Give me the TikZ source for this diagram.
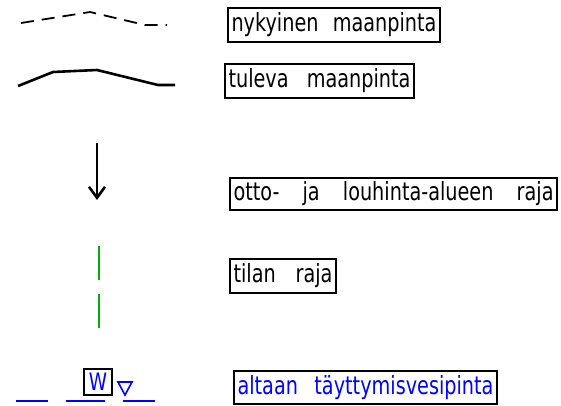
\documentclass[tikz,border=0pt]{standalone}
\usepackage[svgnames]{xcolor}
\usepackage{fontspec}
\setmainfont{DejaVu Sans}
\newfontfamily\cadfont[FakeStretch=0.77]{DejaVu Sans}
\usepackage{tikz}
\usetikzlibrary{arrows.meta}
\colorlet{legendFrame}{black}
\colorlet{waterLevel}{Blue}
\definecolor{plotBorder}{RGB}{10,170,10}

\begin{document}
\begin{tikzpicture}[
  x=1pt, y=-1pt,
  legend box/.style={
    draw=legendFrame,
    line width=2.4pt,
    font=\cadfont\fontsize{25}{27}\selectfont,
    inner xsep=3.5pt,
    inner ysep=0pt,
    minimum height=34pt,
  },
  existing ground/.style={
    line width=1.8pt,
    dash pattern=on 13pt off 8pt,
  },
  future ground/.style={
    line width=2.6pt,
  },
  area border/.style={
    line width=2.6pt,
    -{Straight Barb[length=11pt,width=16pt]},
  },
  plot border/.style={
    draw=plotBorder,
    line width=1.9pt,
    dash pattern=on 34pt off 14pt,
  },
  water line/.style={
    draw=waterLevel,
    line width=1.9pt,
  }
]
\useasboundingbox (0,0) rectangle (561,405);

% symbols
\draw[existing ground] (21,23) -- (90,12) -- (145,25) -- (167,25);
\draw[future ground] (18,86) -- (53,72) -- (97,70) -- (158,85) -- (175,85);
\draw[area border] (97,143) -- (97,200);
\draw[plot border] (99,246) -- (99,328);
\foreach \a/\b in {16/48,66/105,123/155}
  \draw[water line] (\a,401) -- (\b,401);
\node[draw=legendFrame, line width=2.4pt, text=waterLevel, minimum width=28pt,
  minimum height=26pt, inner sep=0pt, font=\cadfont\fontsize{24}{26}\selectfont]
  (waterMark) at (98,382) {W};
\draw[water line, line width=1.6pt] (118,382) -- (132,382) -- (125,395) -- cycle;

% texts
\node[legend box, text width=205pt] (nykyinen) at (334,25)
  {nykyinen\hfill maanpinta};
\node[legend box, text width=182pt] (tuleva) at (319.5,81)
  {tuleva\hfill maanpinta};
\node[legend box, text width=320pt, minimum height=32pt] (otto) at (393.5,194)
  {otto-\hfill ja\hfill louhinta-alueen\hfill raja};
\node[legend box, text width=99pt] (tilan) at (283,276)
  {tilan\hfill raja};
\node[legend box, text width=256pt, minimum height=33pt, text=waterLevel] (altaan) at (365.5,387.5)
  {altaan\hfill täyttymisvesipinta};
\end{tikzpicture}
\end{document}
